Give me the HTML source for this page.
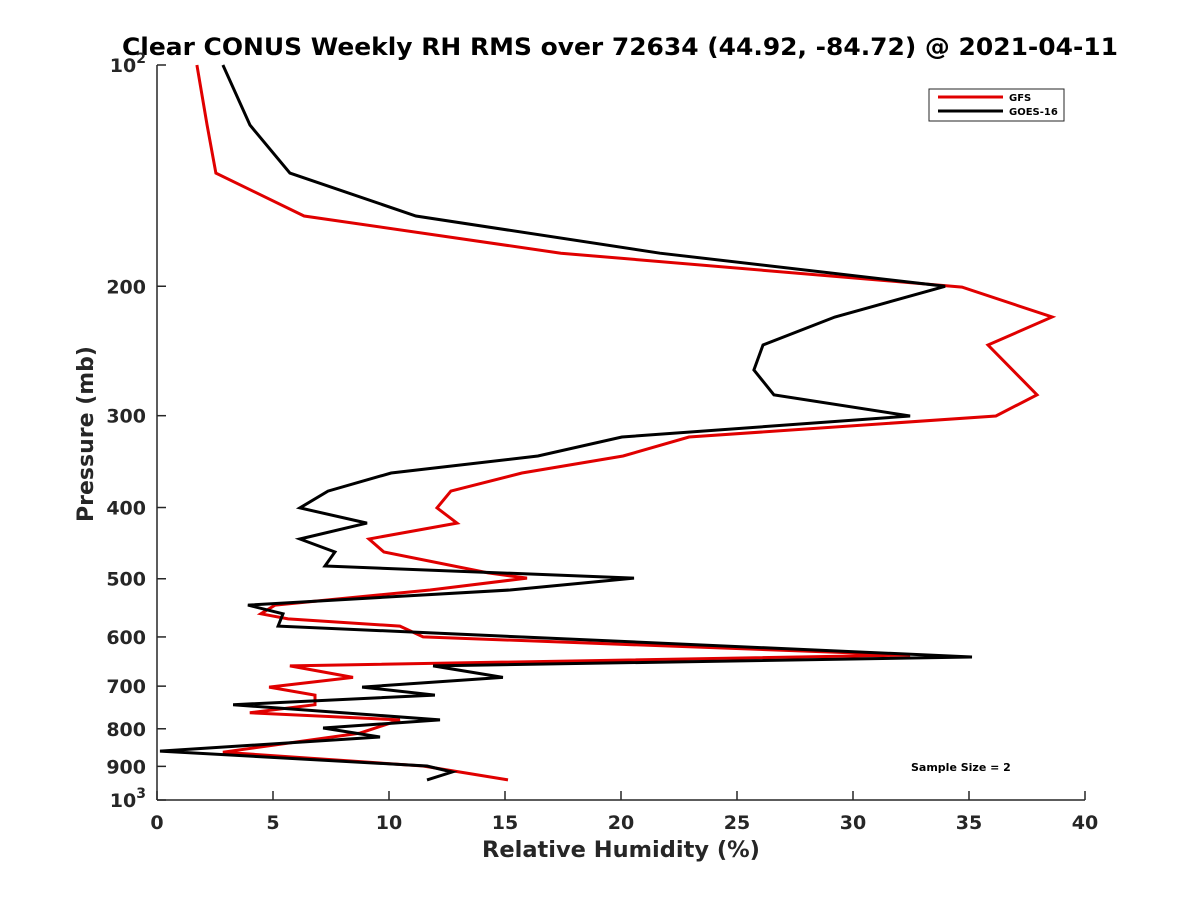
<!DOCTYPE html>
<html><head><meta charset="utf-8">
<style>
body{margin:0;background:#fff;}
svg{display:block;font-family:"DejaVu Sans","Liberation Sans",sans-serif;}
</style></head>
<body>
<svg id="chart" width="1200" height="900" viewBox="0 0 1200 900" xmlns="http://www.w3.org/2000/svg">
<rect x="0" y="0" width="1200" height="900" fill="#fff"/>
<text x="122" y="55" textLength="996" lengthAdjust="spacingAndGlyphs" font-size="24" font-weight="bold" fill="#000">Clear CONUS Weekly RH RMS over 72634 (44.92, -84.72) @ 2021-04-11</text>
<g id="ticks"></g>
<g id="series"></g>
<line x1="157" y1="65" x2="157" y2="800" stroke="#262626" stroke-width="1.5"/>
<line x1="157" y1="800" x2="1085" y2="800" stroke="#262626" stroke-width="1.5"/>
<text x="621" y="857" text-anchor="middle" font-size="22.5" font-weight="bold" fill="#262626">Relative Humidity (%)</text>
<text transform="translate(93,434) rotate(-90)" text-anchor="middle" font-size="22" font-weight="bold" fill="#262626">Pressure (mb)</text>
<g>
<rect x="929" y="89" width="135" height="32" fill="#fff" stroke="#262626" stroke-width="1"/>
<line x1="938" y1="97" x2="1003" y2="97" stroke="#e00000" stroke-width="3"/>
<text x="1009" y="101" font-size="10" font-weight="bold" fill="#000">GFS</text>
<line x1="938" y1="111" x2="1003" y2="111" stroke="#000" stroke-width="3"/>
<text x="1009" y="115" font-size="10" font-weight="bold" fill="#000">GOES-16</text>
</g>
<text x="911" y="771" font-size="11" font-weight="bold" fill="#000">Sample Size = 2</text>
</svg>
<script>
const gfsPressure=[100,120.7,140.3,160.5,180.3,200.5,220.2,240.4,281,300.3,320.7,340.4,359,380,400.5,420,441.5,459.8,491,499,518,543,558,567,580,600,635,657,681,702,720,742,761,778,811,861,899,939];
const gfsRH=[1.72,2.16,2.54,6.34,17.41,34.7,38.58,35.82,37.93,36.16,22.93,20.09,15.73,12.67,12.07,12.93,9.14,9.78,14.27,15.95,11.77,5.09,4.48,5.65,10.47,11.47,32.46,5.73,8.45,4.83,6.81,6.81,4.0,10.47,8.75,2.84,11.47,15.13];
const goesPressure=[100,120.7,140.3,160.5,180.3,200,220.2,240.4,260,281,300.3,320.7,340.4,359,380,400.5,420,441.5,459.8,480.5,499,518,543,558,580,639,657,681,702,720,742,778,798,821,858,899,916,939];
const goesRH=[2.84,4.01,5.73,11.16,21.68,33.97,29.22,26.12,25.73,26.59,32.46,20.04,16.42,10.09,7.37,6.16,9.05,6.16,7.67,7.24,20.56,15.22,3.92,5.43,5.22,35.13,11.9,14.91,8.84,11.98,3.28,12.2,7.16,9.61,0.13,11.64,12.72,11.64];
const xTicks=[0,5,10,15,20,25,30,35,40];
const yTicks=[100,200,300,400,500,600,700,800,900,1000];
const yTickLabels=["10","200","300","400","500","600","700","800","900","10"];
const yTickExps=["2","","","","","","","","","3"];

const NS="http://www.w3.org/2000/svg";
const X0=157,X1=1085,Y0=65,Y1=800;
function xs(v){return X0+(v-0)/(40-0)*(X1-X0);}
function ys(p){return Y0+(Math.log10(p)-2)*(Y1-Y0);}
function mk(tag,attrs,parent){const e=document.createElementNS(NS,tag);for(const k in attrs)e.setAttribute(k,attrs[k]);parent.appendChild(e);return e;}
const tg=document.getElementById('ticks');
xTicks.forEach(v=>{
  const x=xs(v);
  const l=mk('line',{x1:x,y1:Y1,x2:x,y2:Y1-9,stroke:'#262626','stroke-width':1.5},tg);
  
  
  const t=mk('text',{x:x,y:829,'text-anchor':'middle','font-size':19,'font-weight':'bold',fill:'#262626'},tg);
  t.textContent=String(v);
  
  
});
yTicks.forEach((p,i)=>{
  const y=ys(p);
  const l=mk('line',{x1:X0,y1:y,x2:X0+9,y2:y,stroke:'#262626','stroke-width':1.5},tg);
  
  
  const t=mk('text',{x:146,y:y+7,'text-anchor':'end','font-size':19,'font-weight':'bold',fill:'#262626'},tg);
  
  
  if(yTickExps[i]){
    const a=mk('tspan',{},t);a.textContent=yTickLabels[i];
    const b=mk('tspan',{dy:-9,'font-size':14},t);b.textContent=yTickExps[i];
  } else t.textContent=yTickLabels[i];
});
const sg=document.getElementById('series');
function line(ps,vs,color,name){
  const pts=ps.map((p,i)=>xs(vs[i]).toFixed(1)+','+ys(p).toFixed(1)).join(' ');
  const pl=mk('polyline',{points:pts,fill:'none',stroke:color,'stroke-width':3,'stroke-linejoin':'miter','stroke-miterlimit':4},sg);
  
  
}
line(gfsPressure,gfsRH,'#e00000','gfs-line');
line(goesPressure,goesRH,'#000000','goes16-line');
</script>
</body></html>
